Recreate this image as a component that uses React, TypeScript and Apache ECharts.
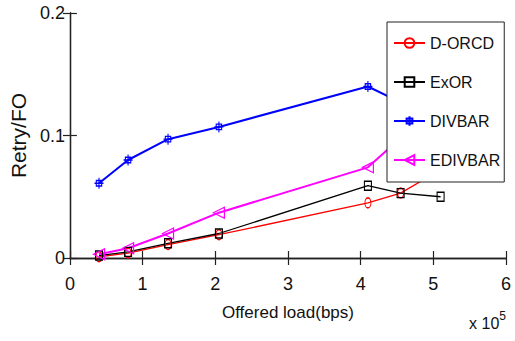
import React, { useEffect, useRef } from "react";
import * as echarts from "echarts";

const loads = [0.4, 0.8, 1.35, 2.05, 4.1, 4.55, 5.1];
const dorcd = [0.001, 0.004, 0.011, 0.019, 0.045, 0.053, 0.072];
const exor = [0.002, 0.005, 0.012, 0.02, 0.059, 0.053, 0.05];
const divbar = [0.061, 0.08, 0.097, 0.107, 0.14, 0.127, 0.118];
const edivbar = [0.003, 0.008, 0.02, 0.037, 0.074, 0.098, 0.112];
const xTicks = [0, 1, 2, 3, 4, 5, 6];
const yTicks = [0, 0.1, 0.2];

const FONT = "'Liberation Sans', Arial, sans-serif";

const pair = (ys: number[]) => loads.map((x, i) => [x, ys[i]]);

export default function App() {
  const ref = useRef<HTMLDivElement>(null);
  useEffect(() => {
    if (!ref.current) return;
    const chart = echarts.init(ref.current, undefined, { renderer: "svg" });
    const axisLine = { show: true, lineStyle: { color: "#222", width: 1.3 } };
    const tick = { show: true, inside: true, length: 7, lineStyle: { color: "#222", width: 1.2 } };
    const hollow = (c: string, w = 1.2) => ({ color: "rgba(255,255,255,0)", borderColor: c, borderWidth: w });
    const mk = (name: string, ys: number[], color: string, symbol: string, size: any, lw: number) => ({
      name,
      type: "line",
      data: pair(ys),
      symbol,
      symbolSize: size,
      showSymbol: true,
      lineStyle: { color, width: lw },
      itemStyle: hollow(color),
      z: 3,
    });
    chart.setOption({
      animation: false,
      backgroundColor: "#fff",
      grid: { left: 63, right: 9, top: 13, bottom: 83, containLabel: false },
      xAxis: [
        {
          type: "value",
          min: xTicks[0],
          max: xTicks[xTicks.length - 1],
          interval: 1,
          position: "bottom",
          axisLine,
          axisTick: tick,
          splitLine: { show: false },
          axisLabel: { color: "#111", fontSize: 18, fontFamily: FONT, margin: 17 },
          name: "Offered load(bps)",
          nameLocation: "middle",
          nameGap: 46,
          nameTextStyle: { color: "#111", fontSize: 17, fontFamily: FONT },
        },
        {
          type: "value",
          min: xTicks[0],
          max: xTicks[xTicks.length - 1],
          interval: 1,
          position: "top",
          axisLine,
          axisTick: tick,
          splitLine: { show: false },
          axisLabel: { show: false },
        },
      ],
      yAxis: [
        {
          type: "value",
          min: yTicks[0],
          max: yTicks[yTicks.length - 1],
          interval: 0.1,
          position: "left",
          axisLine,
          axisTick: tick,
          splitLine: { show: false },
          axisLabel: {
            color: "#111",
            fontSize: 18,
            fontFamily: FONT,
            margin: 5,
            formatter: (v: number) => (v === 0 ? "0" : String(Math.round(v * 10) / 10)),
          },
          name: "Retry/FO",
          nameLocation: "middle",
          nameGap: 22,
          nameTextStyle: { color: "#111", fontSize: 21, fontFamily: FONT },
        },
        {
          type: "value",
          min: yTicks[0],
          max: yTicks[yTicks.length - 1],
          interval: 0.1,
          position: "right",
          axisLine,
          axisTick: tick,
          splitLine: { show: false },
          axisLabel: { show: false },
        },
      ],
      legend: {
        orient: "vertical",
        left: 387,
        top: 22,
        backgroundColor: "#fff",
        borderColor: "#222",
        borderWidth: 1,
        borderRadius: 0,
        padding: [13, 4, 14, 6],
        itemWidth: 31,
        itemHeight: 12,
        itemGap: 23,
        textStyle: { color: "#111", fontSize: 16, fontFamily: FONT },
        data: ["D-ORCD", "ExOR", "DIVBAR", "EDIVBAR"],
      },
      graphic: [
        {
          type: "text",
          right: 9,
          top: 310,
          style: {
            text: "x 10{s|5}",
            fill: "#111",
            font: `16px ${FONT}`,
            rich: { s: { fontSize: 12, fontFamily: FONT, verticalAlign: "top", padding: [0, 0, 14, 0] } },
          },
        },
      ],
      series: [
        mk("D-ORCD", dorcd, "#ff0000", "path://M5,0 C8,0 8,12 5,12 C2,12 2,0 5,0 Z", [6, 10], 1.3),
        mk("ExOR", exor, "#000000", "rect", [7, 9], 1.3),
        mk("DIVBAR", divbar, "#0000ff", "path://M2,3 L8,3 L8,9 L2,9 Z M5,0 L5,12 M0,6 L10,6", [9, 11], 2),
        mk("EDIVBAR", edivbar, "#ff00ff", "path://M10,0 L0,5 L10,10 Z", [11, 11], 2),
      ],
    });
    return () => chart.dispose();
  }, []);
  return <div ref={ref} style={{ position: "fixed", left: 0, top: 0, width: 515, height: 341 }} />;
}
